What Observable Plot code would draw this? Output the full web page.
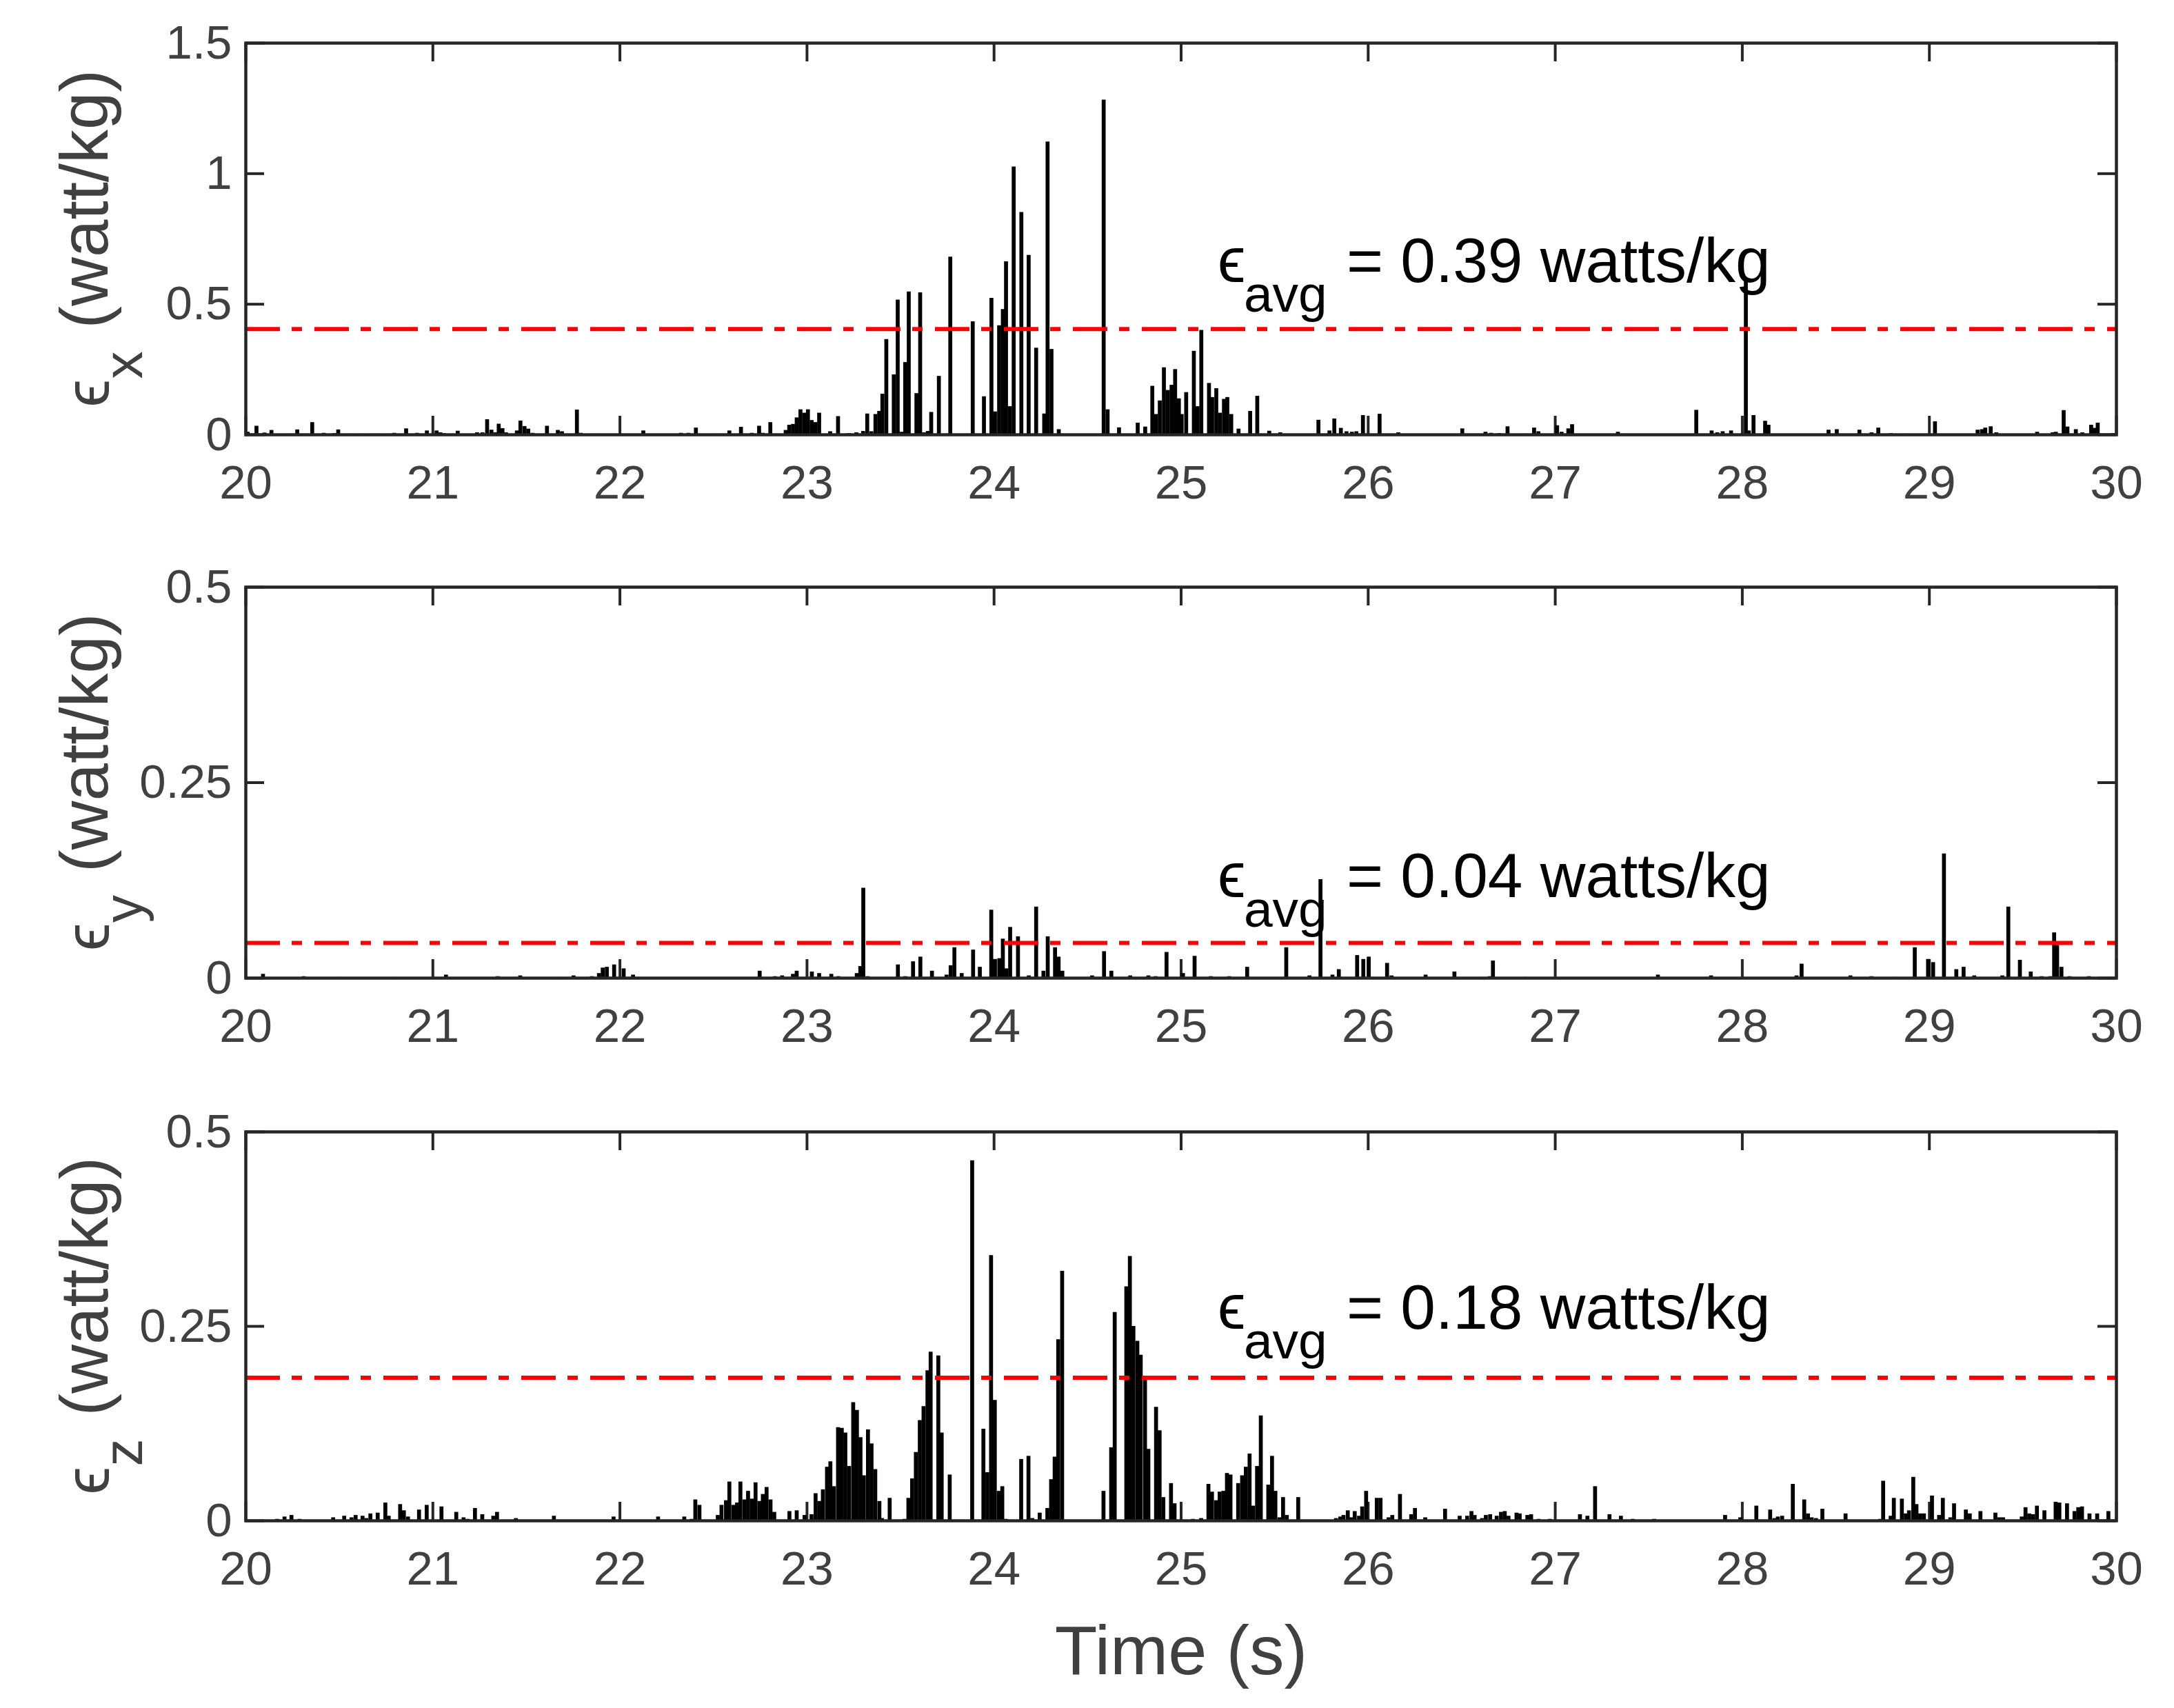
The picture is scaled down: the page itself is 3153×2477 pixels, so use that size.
<!DOCTYPE html>
<html>
<head>
<meta charset="utf-8">
<script src="https://cdn.jsdelivr.net/npm/d3@7"></script>
<script src="https://cdn.jsdelivr.net/npm/@observablehq/plot@0.6"></script>
<style>
  body { margin: 0; background: #fff; overflow: hidden; }
  #chart svg { display: block; }
</style>
</head>
<body>
<div id="chart"></div>
<script>
// dissipation rate per axis, [time (s), watt/kg]
const epsX = [
  [20.01,.01],[20.057,.033],[20.10,.007],[20.137,.017],[20.236,.003],[20.275,.019],[20.31,.003],[20.355,.047],
  [20.417,.006],[20.475,.005],[20.494,.019],[20.556,.003],[20.615,.003],[20.692,.003],[20.77,.003],[20.793,.006],
  [20.857,.023],[20.915,.006],[20.968,.015],[21.02,.015],[21.04,.008],[21.06,.005],[21.133,.014],[21.236,.008],
  [21.265,.008],[21.29,.058],[21.313,.018],[21.333,.008],[21.352,.041],[21.372,.024],[21.391,.008],[21.449,.015],
  [21.468,.053],[21.49,.032],[21.51,.022],[21.533,.006],[21.61,.033],[21.668,.017],[21.69,.012],[21.77,.095],
  [21.79,.006],[21.867,.003],[22.125,.015],[22.206,.002],[22.326,.006],[22.365,.006],[22.406,.026],[22.528,.003],
  [22.585,.015],[22.647,.029],[22.705,.006],[22.744,.033],[22.763,.006],[22.804,.047],[22.886,.017],[22.905,.037],
  [22.925,.04],[22.945,.065],[22.965,.096],[22.985,.083],[23.005,.096],[23.025,.055],[23.045,.047],[23.065,.083],
  [23.124,.012],[23.166,.07],[23.225,.005],[23.264,.008],[23.30,.013],[23.322,.08],[23.344,.012],[23.366,.078],
  [23.386,.09],[23.403,.156],[23.424,.365],[23.464,.23],[23.485,.516],[23.505,.01],[23.525,.277],[23.544,.547],
  [23.585,.158],[23.605,.544],[23.625,.008],[23.646,.013],[23.664,.086],[23.705,.224],[23.746,.003],[23.766,.681],
  [23.803,.002],[23.886,.433],[23.946,.146],[23.986,.523],[24.005,.088],[24.027,.418],[24.047,.48],[24.064,.663],
  [24.085,.108],[24.105,1.026],[24.146,.852],[24.185,.687],[24.225,.332],[24.268,.08],[24.286,1.122],[24.307,.327],
  [24.346,.02],[24.586,1.282],[24.607,.096],[24.668,.027],[24.768,.045],[24.808,.03],[24.846,.186],[24.866,.078],
  [24.886,.13],[24.908,.257],[24.929,.17],[24.949,.19],[24.968,.25],[24.988,.138],[25.003,.078],[25.027,.162],
  [25.068,.32],[25.088,.108],[25.108,.40],[25.149,.197],[25.166,.143],[25.188,.177],[25.208,.083],[25.229,.136],
  [25.247,.143],[25.268,.078],[25.307,.022],[25.369,.09],[25.407,.148],[25.471,.014],[25.53,.008],
  [25.734,.056],[25.793,.015],[25.819,.061],[25.854,.025],[25.884,.012],[25.913,.01],[25.937,.012],[25.972,.074],
  [26.061,.079],[26.161,.008],[26.503,.023],[26.562,.003],[26.627,.01],[26.657,.006],[26.70,.005],[26.745,.031],
  [26.834,.003],[26.887,.026],[26.91,.012],[27.01,.035],[27.034,.01],[27.07,.023],[27.09,.039],[27.335,.01],
  [27.364,.003],[27.754,.094],[27.836,.015],[27.866,.008],[27.895,.012],[27.94,.015],[28.019,.60],[28.035,.015],
  [28.06,.074],[28.122,.052],[28.14,.037],[28.461,.018],[28.505,.02],[28.626,.018],[28.691,.008],[28.727,.026],
  [28.795,.005],[28.87,.003],[29.03,.05],[29.258,.018],[29.281,.02],[29.299,.026],[29.328,.031],[29.358,.008],
  [29.576,.01],[29.659,.008],[29.676,.01],[29.718,.093],[29.738,.03],[29.783,.02],[29.818,.008],[29.865,.037],
  [29.883,.025],[29.90,.045],[29.983,.005]
]

const epsY = [
  [20.092,.005],[20.31,.002],[20.504,.001],[20.8,.001],[21.07,.004],[21.347,.002],[21.467,.003],[21.671,.001],
  [21.752,.003],[21.85,.002],[21.888,.006],[21.908,.013],[21.93,.014],[21.969,.017],[22.02,.012],[22.07,.004],
  [22.747,.009],[22.828,.002],[22.867,.003],[22.925,.005],[22.945,.009],[23.026,.008],[23.065,.006],[23.13,.005],
  [23.168,.002],[23.266,.006],[23.285,.015],[23.301,.115],[23.324,.002],[23.486,.017],[23.525,.002],[23.567,.021],
  [23.606,.027],[23.668,.009],[23.746,.004],[23.768,.016],[23.788,.039],[23.827,.006],[23.888,.036],[23.924,.014],
  [23.985,.087],[24.005,.024],[24.028,.025],[24.047,.05],[24.066,.012],[24.086,.065],[24.128,.053],[24.186,.003],
  [24.225,.091],[24.264,.009],[24.287,.053],[24.326,.039],[24.345,.027],[24.365,.009],[24.524,.003],[24.588,.034],
  [24.627,.009],[24.728,.003],[24.825,.003],[24.864,.002],[24.922,.033],[25.01,.006],
  [25.072,.028],[25.158,.002],[25.257,.002],[25.353,.014],[25.562,.039],[25.686,.003],[25.745,.126],[25.809,.004],
  [25.843,.011],[25.941,.029],[25.974,.024],[26.003,.027],[26.101,.019],[26.125,.003],[26.307,.004],[26.461,.008],
  [26.61,.001],[26.65,.002],[26.667,.022],[26.84,.001],[27.52,.001],[27.549,.004],[27.81,.001],[27.833,.003],
  [28.29,.003],[28.317,.018],[28.578,.003],[28.69,.002],[28.82,.001],[28.922,.039],[28.993,.024],[29.02,.02],
  [29.078,.159],[29.144,.011],[29.183,.014],[29.24,.003],[29.39,.003],[29.422,.091],[29.484,.023],[29.542,.008],
  [29.6,.002],[29.647,.002],[29.667,.058],[29.683,.042],[29.706,.014],[29.75,.002],[29.853,.002],[29.97,.001]
]

const epsZ = [
  [20.086,.001],[20.167,.002],[20.207,.005],[20.244,.007],[20.287,.002],[20.467,.004],[20.526,.006],[20.565,.004],
  [20.587,.007],[20.624,.006],[20.644,.003],[20.666,.009],[20.705,.01],[20.746,.023],[20.764,.006],[20.825,.021],
  [20.845,.013],[20.867,.005],[20.926,.014],[20.967,.02],[21.046,.018],[21.125,.011],[21.164,.004],[21.186,.002],
  [21.225,.016],[21.264,.008],[21.323,.006],[21.343,.011],[21.444,.003],[21.647,.006],[21.966,.005],[22.204,.005],
  [22.344,.005],[22.384,.002],[22.403,.027],[22.425,.02],[22.523,.007],[22.543,.02],[22.567,.026],[22.585,.05],
  [22.607,.02],[22.626,.023],[22.644,.05],[22.666,.027],[22.685,.038],[22.705,.028],[22.725,.049],[22.746,.025],
  [22.764,.034],[22.784,.043],[22.805,.027],[22.825,.011],[22.906,.012],[22.945,.013],[22.987,.007],[23.024,.008],
  [23.046,.035],[23.066,.025],[23.085,.04],[23.107,.069],[23.125,.076],[23.144,.044],[23.166,.12],[23.186,.119],
  [23.205,.113],[23.225,.07],[23.247,.152],[23.267,.142],[23.286,.107],[23.304,.058],[23.326,.117],[23.345,.099],
  [23.365,.066],[23.387,.025],[23.401,.003],[23.442,.029],[23.504,.001],[23.521,.002],[23.542,.029],[23.562,.054],
  [23.582,.088],[23.603,.129],[23.623,.147],[23.644,.193],[23.661,.217],[23.702,.212],[23.72,.113],[23.763,.059],
  [23.883,.463],[23.943,.118],[23.964,.062],[23.984,.341],[24.004,.155],[24.025,.038],[24.044,.044],[24.063,.002],
  [24.145,.079],[24.184,.083],[24.204,.003],[24.244,.01],[24.285,.016],[24.305,.053],[24.324,.082],[24.343,.233],
  [24.364,.321],[24.585,.038],[24.626,.094],[24.645,.268],[24.707,.301],[24.726,.34],[24.745,.25],[24.766,.231],
  [24.784,.213],[24.807,.181],[24.825,.092],[24.866,.146],[24.885,.116],[24.905,.03],[24.946,.048],[24.965,.022],
  [25.063,.002],[25.107,.003],[25.146,.047],[25.165,.037],[25.187,.026],[25.206,.037],[25.226,.038],[25.245,.061],
  [25.264,.059],[25.305,.048],[25.326,.058],[25.346,.069],[25.366,.086],[25.385,.019],[25.406,.07],[25.426,.135],
  [25.466,.046],[25.486,.083],[25.504,.038],[25.526,.004],[25.545,.03],[25.565,.007],[25.626,.03],
  [25.759,.001],[25.828,.003],[25.851,.005],[25.868,.007],[25.891,.013],[25.908,.004],[25.928,.012],[25.951,.006],
  [25.968,.018],[25.989,.038],[26.046,.029],[26.066,.029],[26.109,.004],[26.129,.007],[26.17,.034],[26.23,.008],
  [26.25,.016],[26.305,.004],[26.411,.015],[26.489,.006],[26.529,.006],[26.552,.012],[26.569,.007],[26.609,.003],
  [26.629,.007],[26.652,.008],[26.687,.006],[26.71,.011],[26.73,.012],[26.75,.006],[26.793,.01],[26.81,.009],
  [26.851,.007],[26.871,.008],[26.911,.002],[26.971,.002],[27.132,.008],[27.172,.006],[27.213,.044],[27.29,.008],
  [27.351,.006],[27.414,.002],[27.529,.002],[27.908,.007],[27.989,.004],[28.075,.019],[28.149,.014],[28.172,.003],
  [28.19,.005],[28.213,.006],[28.27,.047],[28.331,.027],[28.351,.009],[28.371,.004],[28.394,.003],[28.428,.015],
  [28.552,.009],[28.736,.002],[28.753,.051],[28.793,.006],[28.81,.029],[28.853,.028],[28.874,.009],[28.891,.013],
  [28.914,.056],[28.931,.021],[28.951,.009],[28.971,.009],[29.014,.032],[29.052,.007],[29.072,.029],[29.112,.004],
  [29.132,.022],[29.195,.014],[29.216,.009],[29.273,.012],[29.353,.01],[29.374,.004],[29.394,.004],[29.494,.005],
  [29.514,.017],[29.534,.009],[29.555,.008],[29.575,.019],[29.615,.013],[29.675,.024],[29.695,.023],[29.736,.022],
  [29.776,.012],[29.796,.017],[29.816,.018],[29.856,.009],[29.897,.009],[29.957,.012]
]

const xTicks = [20, 21, 22, 23, 24, 25, 26, 27, 28, 29, 30]
const yTicksX = [0, 0.5, 1, 1.5]
const yTicksYZ = [0, 0.25, 0.5]
const avgLines = [0.405, 0.045, 0.184]
const avgLabels = ["= 0.39 watts/kg", "= 0.04 watts/kg", "= 0.18 watts/kg"]
const subs = ["x", "y", "z"]
const annY = [0.586, 0.104, 0.247]
const annX = 25.195

const W = 3153, ML = 356, MR = 84
const axisCol = '#262626'
const textCol = '#404040'
const font = 'Liberation Sans, Arial, Helvetica, sans-serif'
const fmt = d3.format('~g')

function panel(data, i, yMax, yTicks, mt, h, mb, xLabel) {
  const innerH = h - mt - mb, innerW = W - ML - MR
  const rows = data.map(d => ({t: d[0], v: d[1]}))
  const marks = [
    // inward ticks on all four sides
    Plot.ruleX(xTicks, {x: d => d, insetTop: innerH - 27, stroke: axisCol, strokeWidth: 4}),
    Plot.ruleX(xTicks, {x: d => d, insetBottom: innerH - 27, stroke: axisCol, strokeWidth: 4}),
    Plot.ruleY(yTicks, {y: d => d, insetRight: innerW - 27, stroke: axisCol, strokeWidth: 4}),
    Plot.ruleY(yTicks, {y: d => d, insetLeft: innerW - 27, stroke: axisCol, strokeWidth: 4}),
    Plot.ruleX(rows, {x: 't', y: 'v', stroke: 'black', strokeWidth: 5.7}),
    Plot.ruleY([avgLines[i]], {stroke: '#ff0000', strokeWidth: 6, strokeDasharray: '50,17,15,18'}),
    Plot.frame({stroke: axisCol, strokeWidth: 4.5}),
    Plot.axisX({ticks: xTicks, tickSize: 0, tickPadding: 43, fontSize: 69, fill: textCol, label: null}),
    Plot.axisY({ticks: yTicks, tickSize: 0, tickPadding: 20, fontSize: 69, fill: textCol, label: null, tickFormat: fmt}),
    // y label: eps, subscript, units (rotated)
    Plot.text(['ϵ'], {text: d => d, frameAnchor: 'left', rotate: -90, textAnchor: 'start', lineAnchor: 'bottom',
      dx: -199, dy: 244, fontSize: 92, fill: textCol}),
    Plot.text([subs[i]], {text: d => d, frameAnchor: 'left', rotate: -90, textAnchor: 'start', lineAnchor: 'bottom',
      dx: -151, dy: 203, fontSize: 80, fill: textCol}),
    Plot.text(['(watt/kg)'], {text: d => d, frameAnchor: 'left', rotate: -90, textAnchor: 'start', lineAnchor: 'bottom',
      dx: -201, dy: 130, fontSize: 98, fill: textCol}),
    // average annotation
    Plot.text(['ϵ'], {x: () => annX, y: () => annY[i], text: d => d, textAnchor: 'start', lineAnchor: 'bottom',
      fontSize: 92, fill: 'black'}),
    Plot.text(['avg'], {x: () => annX, y: () => annY[i], text: d => d, textAnchor: 'start', lineAnchor: 'bottom',
      dx: 38, dy: 43, fontSize: 75, fill: 'black'}),
    Plot.text([avgLabels[i]], {x: () => annX, y: () => annY[i], text: d => d, textAnchor: 'start', lineAnchor: 'bottom',
      dx: 187, fontSize: 91, fill: 'black'})
  ]
  if (xLabel) {
    marks.push(Plot.text([xLabel], {text: d => d, frameAnchor: 'bottom', lineAnchor: 'bottom', dy: 222,
      fontSize: 101, fill: textCol}))
  }
  return Plot.plot({
    width: W, height: h,
    marginLeft: ML, marginRight: MR, marginTop: mt, marginBottom: mb,
    style: {fontFamily: font, background: 'white', overflow: 'visible'},
    x: {domain: [20, 30]},
    y: {domain: [0, yMax]},
    marks
  })
}

const chart = d3.select('#chart')
chart.append(() => panel(epsX, 0, 1.5, yTicksX, 62, 776, 146))
chart.append(() => panel(epsY, 1, 0.5, yTicksYZ, 75, 788, 146))
chart.append(() => panel(epsZ, 2, 0.5, yTicksYZ, 77, 913, 272, 'Time (s)'))
</script>
</body>
</html>
